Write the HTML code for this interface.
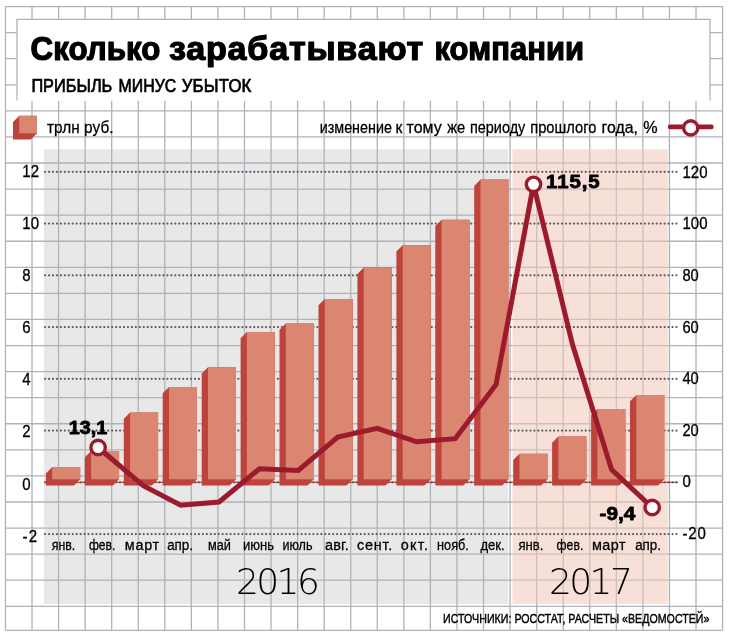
<!DOCTYPE html>
<html lang="ru"><head><meta charset="utf-8"><title>Сколько зарабатывают компании</title>
<style>
html,body{margin:0;padding:0;background:#fff}
body{width:731px;height:640px;overflow:hidden}
svg{display:block}
text{font-family:"Liberation Sans","DejaVu Sans",sans-serif;fill:#000}
.r{stroke:#000;stroke-width:0.3px}
.b{font-weight:bold}
.yr{font-family:"DejaVu Sans Light","DejaVu Sans","Liberation Sans",sans-serif;font-weight:200}
</style></head><body>
<svg width="731" height="640" viewBox="0 0 731 640">
<rect width="731" height="640" fill="#fff"/>
<rect x="43.8" y="149.2" width="464.5" height="454.6" fill="#e8e8e8"/>
<path d="M5.45 6.55V630.3M32.01 6.55V630.3M58.57 6.55V630.3M85.13 6.55V630.3M111.69 6.55V630.3M138.25 6.55V630.3M164.81 6.55V630.3M191.37 6.55V630.3M217.93 6.55V630.3M244.49 6.55V630.3M271.05 6.55V630.3M297.61 6.55V630.3M324.17 6.55V630.3M350.73 6.55V630.3M377.29 6.55V630.3M403.85 6.55V630.3M430.41 6.55V630.3M456.97 6.55V630.3M483.53 6.55V630.3M510.09 6.55V630.3M536.65 6.55V630.3M563.21 6.55V630.3M589.77 6.55V630.3M616.33 6.55V630.3M642.89 6.55V630.3M669.45 6.55V630.3M696.01 6.55V630.3M722.57 6.55V630.3M5.45 6.55H722.57M5.45 32.63H722.57M5.45 58.70H722.57M5.45 84.78H722.57M5.45 110.85H722.57M5.45 136.93H722.57M5.45 163.01H722.57M5.45 189.08H722.57M5.45 215.16H722.57M5.45 241.23H722.57M5.45 267.31H722.57M5.45 293.39H722.57M5.45 319.46H722.57M5.45 345.54H722.57M5.45 371.61H722.57M5.45 397.69H722.57M5.45 423.77H722.57M5.45 449.84H722.57M5.45 475.92H722.57M5.45 501.99H722.57M5.45 528.07H722.57M5.45 554.15H722.57M5.45 580.22H722.57M5.45 606.30H722.57M5.45 630.30H722.57" stroke="#b0b2b9" stroke-width="1.3" fill="none"/>
<rect x="512.5" y="149.2" width="155.3" height="454.6" fill="#efc7b8" fill-opacity="0.55"/>
<path d="M17 100.5V19.3H710V100.5" fill="#fff" stroke="#b0b2b9" stroke-width="1.3"/>
<rect x="17.7" y="95" width="691.6" height="5.5" fill="#fff"/>
<line x1="44.6" y1="482.4" x2="678" y2="482.4" stroke="#c5483f" stroke-width="1.1"/>
<line x1="45.1" y1="171.80" x2="677" y2="171.80" stroke="#555960" stroke-width="2.2" stroke-dasharray="0.01 3.936" stroke-linecap="round"/>
<line x1="45.1" y1="223.55" x2="677" y2="223.55" stroke="#555960" stroke-width="2.2" stroke-dasharray="0.01 3.936" stroke-linecap="round"/>
<line x1="45.1" y1="275.30" x2="677" y2="275.30" stroke="#555960" stroke-width="2.2" stroke-dasharray="0.01 3.936" stroke-linecap="round"/>
<line x1="45.1" y1="327.05" x2="677" y2="327.05" stroke="#555960" stroke-width="2.2" stroke-dasharray="0.01 3.936" stroke-linecap="round"/>
<line x1="45.1" y1="378.80" x2="677" y2="378.80" stroke="#555960" stroke-width="2.2" stroke-dasharray="0.01 3.936" stroke-linecap="round"/>
<line x1="45.1" y1="430.55" x2="677" y2="430.55" stroke="#555960" stroke-width="2.2" stroke-dasharray="0.01 3.936" stroke-linecap="round"/>
<line x1="45.1" y1="482.30" x2="677" y2="482.30" stroke="#555960" stroke-width="2.2" stroke-dasharray="0.01 3.936" stroke-linecap="round"/>
<line x1="45.1" y1="534.05" x2="677" y2="534.05" stroke="#555960" stroke-width="2.2" stroke-dasharray="0.01 3.936" stroke-linecap="round"/>
<path d="M45.9 485.6V473.4L52.2 467.1H80.2V479.3L73.9 485.6Z" fill="#be433d"/>
<rect x="52.2" y="467.1" width="28.0" height="12.2" fill="#db8671"/>
<path d="M84.8 485.6V457.3L91.1 451.0H119.1V479.3L112.8 485.6Z" fill="#be433d"/>
<rect x="91.1" y="451.0" width="28.0" height="28.3" fill="#db8671"/>
<path d="M123.8 485.6V418.7L130.1 412.4H158.1V479.3L151.8 485.6Z" fill="#be433d"/>
<rect x="130.1" y="412.4" width="28.0" height="66.9" fill="#db8671"/>
<path d="M162.7 485.6V393.3L169.0 387.0H197.0V479.3L190.7 485.6Z" fill="#be433d"/>
<rect x="169.0" y="387.0" width="28.0" height="92.3" fill="#db8671"/>
<path d="M201.7 485.6V373.6L208.0 367.3H236.0V479.3L229.7 485.6Z" fill="#be433d"/>
<rect x="208.0" y="367.3" width="28.0" height="112.0" fill="#db8671"/>
<path d="M240.6 485.6V338.2L246.9 331.9H274.9V479.3L268.6 485.6Z" fill="#be433d"/>
<rect x="246.9" y="331.9" width="28.0" height="147.4" fill="#db8671"/>
<path d="M279.5 485.6V329.7L285.8 323.4H313.8V479.3L307.5 485.6Z" fill="#be433d"/>
<rect x="285.8" y="323.4" width="28.0" height="155.9" fill="#db8671"/>
<path d="M318.5 485.6V305.3L324.8 299.0H352.8V479.3L346.5 485.6Z" fill="#be433d"/>
<rect x="324.8" y="299.0" width="28.0" height="180.3" fill="#db8671"/>
<path d="M357.4 485.6V273.9L363.7 267.6H391.7V479.3L385.4 485.6Z" fill="#be433d"/>
<rect x="363.7" y="267.6" width="28.0" height="211.7" fill="#db8671"/>
<path d="M396.4 485.6V251.6L402.7 245.3H430.7V479.3L424.4 485.6Z" fill="#be433d"/>
<rect x="402.7" y="245.3" width="28.0" height="234.0" fill="#db8671"/>
<path d="M435.3 485.6V226.1L441.6 219.8H469.6V479.3L463.3 485.6Z" fill="#be433d"/>
<rect x="441.6" y="219.8" width="28.0" height="259.5" fill="#db8671"/>
<path d="M474.2 485.6V185.9L480.5 179.6H508.5V479.3L502.2 485.6Z" fill="#be433d"/>
<rect x="480.5" y="179.6" width="28.0" height="299.7" fill="#db8671"/>
<path d="M513.2 485.6V460.1L519.5 453.8H547.5V479.3L541.2 485.6Z" fill="#be433d"/>
<rect x="519.5" y="453.8" width="28.0" height="25.5" fill="#db8671"/>
<path d="M552.1 485.6V442.8L558.4 436.5H586.4V479.3L580.1 485.6Z" fill="#be433d"/>
<rect x="558.4" y="436.5" width="28.0" height="42.8" fill="#db8671"/>
<path d="M591.1 485.6V415.3L597.4 409.0H625.4V479.3L619.1 485.6Z" fill="#be433d"/>
<rect x="597.4" y="409.0" width="28.0" height="70.3" fill="#db8671"/>
<path d="M630.0 485.6V401.3L636.3 395.0H664.3V479.3L658.0 485.6Z" fill="#be433d"/>
<rect x="636.3" y="395.0" width="28.0" height="84.3" fill="#db8671"/>
<polyline points="98.1,447.5 143.3,485.6 180.7,505.3 219,502 259.5,468.7 298.2,470.4 337.8,437.1 377.2,428.3 416.5,441.8 455.2,438.7 496.1,384.5 533.5,184.3 572.5,344.5 611.6,469.7 652.2,507.5" fill="none" stroke="#9b1b2d" stroke-width="5" stroke-linejoin="miter"/>
<circle cx="98.1" cy="447.5" r="7.2" fill="#fff" stroke="#9b1b2d" stroke-width="3.4"/>
<circle cx="533.5" cy="184.3" r="7.2" fill="#fff" stroke="#9b1b2d" stroke-width="3.4"/>
<circle cx="652.2" cy="507.5" r="7.2" fill="#fff" stroke="#9b1b2d" stroke-width="3.4"/>
<path d="M13 139.5V122L19.2 115.8H37V133.3L30.8 139.5Z" fill="#be433d"/>
<rect x="19.2" y="115.8" width="17.8" height="17.5" fill="#db8671"/>
<line x1="670.1" y1="126.9" x2="711.4" y2="126.9" stroke="#9b1b2d" stroke-width="4.6" stroke-linecap="round"/>
<circle cx="690.7" cy="127.9" r="7.1" fill="#fff" stroke="#9b1b2d" stroke-width="3.4"/>
<text transform="translate(30.6 60.4) scale(0.964 1)" font-size="32.5" textLength="134.7" lengthAdjust="spacing" class="b" stroke="#000" stroke-width="1.2" stroke-linejoin="round">Сколько</text>
<text transform="translate(168.9 60.4) scale(1.050 1)" font-size="32.5" textLength="242.2" lengthAdjust="spacing" class="b" stroke="#000" stroke-width="1.2" stroke-linejoin="round">зарабатывают</text>
<text transform="translate(434.5 60.4) scale(0.955 1)" font-size="32.5" textLength="156.6" lengthAdjust="spacing" class="b" stroke="#000" stroke-width="1.2" stroke-linejoin="round">компании</text>
<text transform="translate(31.4 91.6) scale(0.906 1)" font-size="18" textLength="89.3" lengthAdjust="spacing" stroke="#000" stroke-width="0.7">ПРИБЫЛЬ</text>
<text transform="translate(118.6 91.6) scale(0.881 1)" font-size="18" textLength="65.4" lengthAdjust="spacing" stroke="#000" stroke-width="0.7">МИНУС</text>
<text transform="translate(181.8 91.6) scale(0.930 1)" font-size="18" textLength="74.8" lengthAdjust="spacing" stroke="#000" stroke-width="0.7">УБЫТОК</text>
<text transform="translate(47 132.6) scale(0.900 1)" font-size="17" textLength="73.9" lengthAdjust="spacing" class="r">трлн руб.</text>
<text transform="translate(319.7 132.6) scale(0.844 1)" font-size="17" textLength="85.6" lengthAdjust="spacing" class="r">изменение</text>
<text transform="translate(395.6 132.6) scale(0.914 1)" font-size="17" textLength="7.4" lengthAdjust="spacing" class="r">к</text>
<text transform="translate(406.6 132.6) scale(0.940 1)" font-size="17" textLength="37.4" lengthAdjust="spacing" class="r">тому</text>
<text transform="translate(447.3 132.6) scale(0.859 1)" font-size="17" textLength="20.8" lengthAdjust="spacing" class="r">же</text>
<text transform="translate(469.9 132.6) scale(0.851 1)" font-size="17" textLength="65.1" lengthAdjust="spacing" class="r">периоду</text>
<text transform="translate(530.3 132.6) scale(0.862 1)" font-size="17" textLength="76.6" lengthAdjust="spacing" class="r">прошлого</text>
<text transform="translate(601.5 132.6) scale(0.933 1)" font-size="17" textLength="39.0" lengthAdjust="spacing" class="r">года,</text>
<text transform="translate(643.2 132.6) scale(0.950 1)" font-size="17" textLength="15.7" lengthAdjust="spacing" class="r">%</text>
<text transform="translate(22.2 176.6) scale(0.950 1)" font-size="15.8" textLength="17.7" lengthAdjust="spacing" class="r">12</text>
<text transform="translate(22.2 228.8) scale(0.950 1)" font-size="15.8" textLength="17.7" lengthAdjust="spacing" class="r">10</text>
<text transform="translate(22.2 280.9) scale(0.950 1)" font-size="15.8" textLength="9.1" lengthAdjust="spacing" class="r">8</text>
<text transform="translate(22.2 333.0) scale(0.950 1)" font-size="15.8" textLength="9.1" lengthAdjust="spacing" class="r">6</text>
<text transform="translate(22.2 385.2) scale(0.950 1)" font-size="15.8" textLength="9.1" lengthAdjust="spacing" class="r">4</text>
<text transform="translate(22.2 437.4) scale(0.950 1)" font-size="15.8" textLength="9.1" lengthAdjust="spacing" class="r">2</text>
<text transform="translate(22.2 489.5) scale(0.950 1)" font-size="15.8" textLength="9.1" lengthAdjust="spacing" class="r">0</text>
<text transform="translate(22.6 541.6) scale(0.950 1)" font-size="15.8" textLength="15.2" lengthAdjust="spacing" class="r">-2</text>
<text transform="translate(682.4 177.7) scale(0.950 1)" font-size="15.8" textLength="26.5" lengthAdjust="spacing" class="r">120</text>
<text transform="translate(682.4 229.3) scale(0.950 1)" font-size="15.8" textLength="26.5" lengthAdjust="spacing" class="r">100</text>
<text transform="translate(682.4 280.9) scale(0.933 1)" font-size="15.8" textLength="17.6" lengthAdjust="spacing" class="r">80</text>
<text transform="translate(682.4 332.5) scale(0.933 1)" font-size="15.8" textLength="17.6" lengthAdjust="spacing" class="r">60</text>
<text transform="translate(682.4 384.1) scale(0.933 1)" font-size="15.8" textLength="17.6" lengthAdjust="spacing" class="r">40</text>
<text transform="translate(682.4 435.8) scale(0.933 1)" font-size="15.8" textLength="17.6" lengthAdjust="spacing" class="r">20</text>
<text transform="translate(682.4 487.4) scale(0.950 1)" font-size="15.8" textLength="9.1" lengthAdjust="spacing" class="r">0</text>
<text transform="translate(682.4 539.0) scale(0.950 1)" font-size="15.8" textLength="24.8" lengthAdjust="spacing" class="r">-20</text>
<text transform="translate(51.7 550.3) scale(0.797 1)" font-size="15.5" textLength="29.5" lengthAdjust="spacing" class="r">янв.</text>
<text transform="translate(88.9 550.3) scale(0.781 1)" font-size="15.5" textLength="33.9" lengthAdjust="spacing" class="r">фев.</text>
<text transform="translate(124.8 550.3) scale(0.930 1)" font-size="15.5" textLength="37.0" lengthAdjust="spacing" class="r">март</text>
<text transform="translate(167.2 550.3) scale(0.862 1)" font-size="15.5" textLength="29.9" lengthAdjust="spacing" class="r">апр.</text>
<text transform="translate(208.0 550.3) scale(0.823 1)" font-size="15.5" textLength="27.9" lengthAdjust="spacing" class="r">май</text>
<text transform="translate(243.0 550.3) scale(0.840 1)" font-size="15.5" textLength="36.9" lengthAdjust="spacing" class="r">июнь</text>
<text transform="translate(282.4 550.3) scale(0.812 1)" font-size="15.5" textLength="37.1" lengthAdjust="spacing" class="r">июль</text>
<text transform="translate(324.9 550.3) scale(0.930 1)" font-size="15.5" textLength="25.7" lengthAdjust="spacing" class="r">авг.</text>
<text transform="translate(357.1 550.3) scale(0.930 1)" font-size="15.5" textLength="37.7" lengthAdjust="spacing" class="r">сент.</text>
<text transform="translate(400.8 550.3) scale(0.930 1)" font-size="15.5" textLength="29.2" lengthAdjust="spacing" class="r">окт.</text>
<text transform="translate(437.1 550.3) scale(0.820 1)" font-size="15.5" textLength="38.8" lengthAdjust="spacing" class="r">нояб.</text>
<text transform="translate(480.4 550.3) scale(0.845 1)" font-size="15.5" textLength="28.8" lengthAdjust="spacing" class="r">дек.</text>
<text transform="translate(518.4 550.3) scale(0.844 1)" font-size="15.5" textLength="29.5" lengthAdjust="spacing" class="r">янв.</text>
<text transform="translate(556.6 550.3) scale(0.787 1)" font-size="15.5" textLength="33.9" lengthAdjust="spacing" class="r">фев.</text>
<text transform="translate(592.0 550.3) scale(0.930 1)" font-size="15.5" textLength="36.2" lengthAdjust="spacing" class="r">март</text>
<text transform="translate(635.2 550.3) scale(0.862 1)" font-size="15.5" textLength="29.9" lengthAdjust="spacing" class="r">апр.</text>
<text x="236" y="593.5" font-size="36" class="yr" letter-spacing="-2.6">2016</text>
<text x="549" y="593.5" font-size="36" class="yr" letter-spacing="-2.6">2017</text>
<text transform="translate(68.7 434.3) scale(1.072 1)" font-size="18.5" textLength="36.0" lengthAdjust="spacing" class="b" stroke="#000" stroke-width="0.8" stroke-linejoin="round">13,1</text>
<text transform="translate(546.1 187.8) scale(1.160 1)" font-size="17.6" textLength="46.2" lengthAdjust="spacing" class="b" stroke="#000" stroke-width="0.8" stroke-linejoin="round">115,5</text>
<text transform="translate(599.6 519.7) scale(1.123 1)" font-size="18.5" textLength="31.9" lengthAdjust="spacing" class="b" stroke="#000" stroke-width="0.8" stroke-linejoin="round">-9,4</text>
<text transform="translate(443 622.5) scale(0.853 1)" font-size="12.5" textLength="312.4" lengthAdjust="spacing" stroke="#000" stroke-width="0.4">ИСТОЧНИКИ: РОССТАТ, РАСЧЕТЫ «ВЕДОМОСТЕЙ»</text>
</svg></body></html>
